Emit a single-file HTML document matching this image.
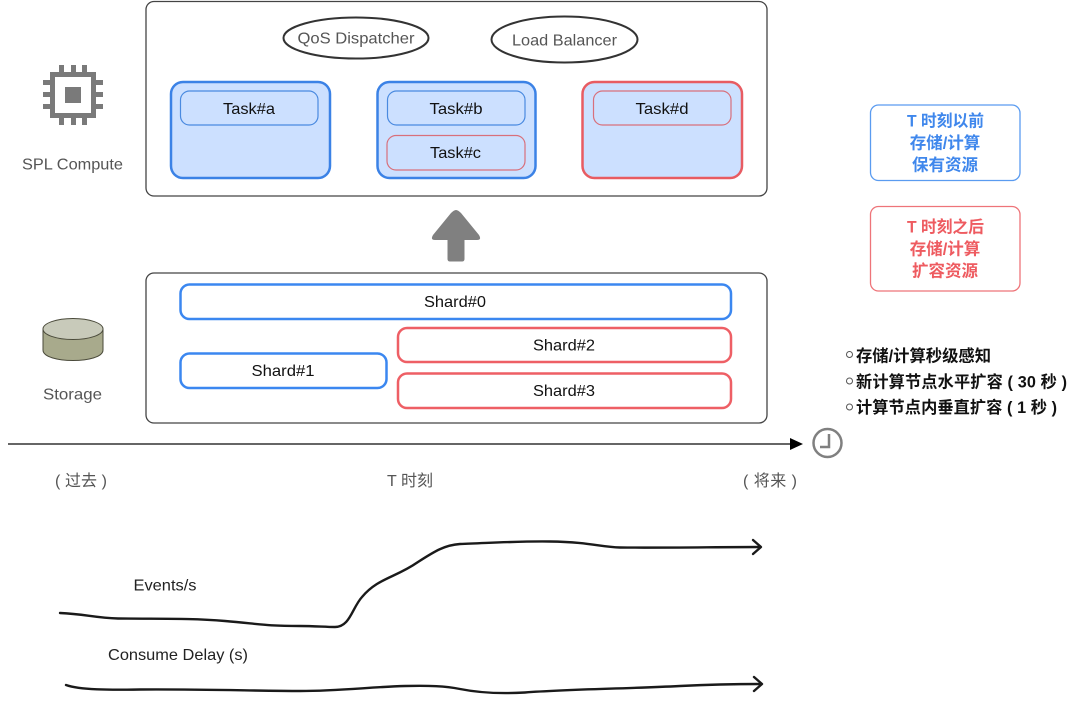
<!DOCTYPE html>
<html><head><meta charset="utf-8"><style>
html,body{margin:0;padding:0;background:#fff;width:1080px;height:702px;overflow:hidden}
svg{display:block}
text{font-family:"Liberation Sans","Noto Sans CJK SC",sans-serif;font-size:16px;text-anchor:middle}
.k{fill:#111}.g{fill:#555}
.b{font-weight:700;font-size:16.500px}
.n{font-weight:700;font-size:16.200px;fill:#111;text-anchor:start}
</style></head><body>
<svg width="1080" height="702" viewBox="0 0 1080 702" xmlns="http://www.w3.org/2000/svg">
<rect width="1080" height="702" fill="#fff"/>
<rect x="146" y="1.500" width="621" height="194.500" rx="8" fill="#fff" stroke="#444" stroke-width="1.300"/>
<rect x="146" y="273" width="621" height="150" rx="8" fill="#fff" stroke="#444" stroke-width="1.300"/>
<ellipse cx="356" cy="38" rx="72.500" ry="20.500" fill="#fff" stroke="#333" stroke-width="2"/>
<ellipse cx="564.500" cy="39.500" rx="73" ry="23" fill="#fff" stroke="#333" stroke-width="2"/>
<text x="356" y="43.500" class="g" textLength="117" lengthAdjust="spacingAndGlyphs">QoS Dispatcher</text>
<text x="564.500" y="45.500" class="g" textLength="105" lengthAdjust="spacingAndGlyphs">Load Balancer</text>

<g fill="#cce0ff" stroke-width="2.500">
<rect x="171" y="82" width="159" height="96" rx="12" stroke="#3b82e6"/>
<rect x="377.500" y="82" width="158" height="96" rx="12" stroke="#3b82e6"/>
<rect x="582.500" y="82" width="159.500" height="96" rx="12" stroke="#e85c62"/>
</g>
<g fill="#cce0ff" stroke-width="1.200">
<rect x="180.500" y="91" width="137.500" height="34" rx="9" stroke="#4a8ae0"/>
<rect x="387.500" y="91" width="137.500" height="34" rx="9" stroke="#4a8ae0"/>
<rect x="387" y="135.500" width="138" height="34.500" rx="9" stroke="#d8707c"/>
<rect x="593.500" y="91" width="137.500" height="34" rx="9" stroke="#d8707c"/>
</g>
<text x="249" y="114" class="k" textLength="52" lengthAdjust="spacingAndGlyphs">Task#a</text>
<text x="456" y="114" class="k" textLength="53" lengthAdjust="spacingAndGlyphs">Task#b</text>
<text x="455.500" y="158" class="k" textLength="51" lengthAdjust="spacingAndGlyphs">Task#c</text>
<text x="662" y="114" class="k" textLength="53" lengthAdjust="spacingAndGlyphs">Task#d</text>

<path d="M456 210 Q458 210 461 213 L479 235 Q482 240 477 240 L464.500 240 L464.500 259 Q464.500 261.500 462 261.500 L450 261.500 Q447.500 261.500 447.500 259 L447.500 240 L435 240 Q430 240 433 235 L451 213 Q454 210 456 210Z" fill="#808080"/>

<g fill="#fff" stroke-width="2.500">
<rect x="180.500" y="284.500" width="550.500" height="34.500" rx="9" stroke="#3b87f0"/>
<rect x="180.500" y="353.500" width="206" height="34.500" rx="9" stroke="#3b87f0"/>
<rect x="398" y="328" width="333" height="34" rx="9" stroke="#ee5f65"/>
<rect x="398" y="373.500" width="333" height="34.500" rx="9" stroke="#ee5f65"/>
</g>
<text x="455" y="307" class="k" textLength="62" lengthAdjust="spacingAndGlyphs">Shard#0</text>
<text x="283" y="376" class="k" textLength="63" lengthAdjust="spacingAndGlyphs">Shard#1</text>
<text x="564" y="350.500" class="k" textLength="62" lengthAdjust="spacingAndGlyphs">Shard#2</text>
<text x="564" y="396" class="k" textLength="62" lengthAdjust="spacingAndGlyphs">Shard#3</text>

<g fill="#7a7a7a">
<path fill-rule="evenodd" d="M50 72H96V118H50ZM55 77V113H91V77Z"/>
<rect x="65" y="87" width="16" height="16"/>
<rect x="59" y="65" width="5" height="9"/><rect x="71" y="65" width="5" height="9"/><rect x="82" y="65" width="5" height="9"/>
<rect x="59" y="116" width="5" height="9"/><rect x="71" y="116" width="5" height="9"/><rect x="82" y="116" width="5" height="9"/>
<rect x="43" y="80" width="9" height="5"/><rect x="43" y="92" width="9" height="5"/><rect x="43" y="104" width="9" height="5"/>
<rect x="94" y="80" width="9" height="5"/><rect x="94" y="92" width="9" height="5"/><rect x="94" y="104" width="9" height="5"/>
</g>
<text x="72.500" y="169.500" class="g" textLength="101" lengthAdjust="spacingAndGlyphs">SPL Compute</text>

<path d="M43 329 V350 C43 364 103 364 103 350 V329Z" fill="#a8aa8c" stroke="#4a4a3a" stroke-width="1"/>
<ellipse cx="73" cy="329" rx="30" ry="10.500" fill="#c8caba" stroke="#4a4a3a" stroke-width="1"/>
<text x="72.500" y="399.500" class="g" textLength="59" lengthAdjust="spacingAndGlyphs">Storage</text>

<line x1="8" y1="444" x2="792" y2="444" stroke="#333" stroke-width="1.500"/>
<path d="M790 438 L803 444 L790 450Z" fill="#000"/>
<circle cx="827.500" cy="443" r="14" fill="#fff" stroke="#808080" stroke-width="2.500"/>
<path d="M829 434 V447 H820" fill="none" stroke="#808080" stroke-width="2.500"/>

<text x="81" y="486" class="g" textLength="52" lengthAdjust="spacing">( 过去 )</text>
<text x="410" y="486" class="g">T 时刻</text>
<text x="770" y="486" class="g" textLength="54" lengthAdjust="spacing">( 将来 )</text>

<g stroke="#1a1a1a" fill="none" stroke-width="2.400" stroke-linecap="round" stroke-linejoin="round">
<path d="M60 613 C85 614 95 618 118 618.500 C160 619 190 618 225 621 C260 624 265 626 300 626 C315 626 325 627 335 627 C350 627 352 608 362 597 C378 578 395 578 418 562 C435 551 445 545 460 544 C490 543 520 541 550 541.500 C590 542 600 547 620 547.500 C660 548 720 547 760 547"/>
<path d="M753 540 L761 547 L753 554"/>
<path d="M66 685 C80 690 110 690 140 689.500 C200 689 260 691 300 691 C340 691 370 687 405 686 C430 685.500 445 686 460 689 C480 693 500 694 525 692.500 C570 689 620 689 680 686 C710 684.500 735 684 761 684"/>
<path d="M754 677 L762 684 L754 691"/>
</g>
<text x="165" y="590.500" style="fill:#222" textLength="63" lengthAdjust="spacingAndGlyphs">Events/s</text>
<text x="178" y="660" style="fill:#222" textLength="140" lengthAdjust="spacingAndGlyphs">Consume Delay (s)</text>

<rect x="870.500" y="105" width="149.500" height="75.500" rx="8" fill="#fff" stroke="#5a9bf0" stroke-width="1.300"/>
<rect x="870.500" y="206.500" width="149.500" height="84.500" rx="8" fill="#fff" stroke="#ee7479" stroke-width="1.300"/>
<text class="b" x="945.500" y="126.500" fill="#3f87ec" textLength="77" lengthAdjust="spacingAndGlyphs">T 时刻以前</text>
<text class="b" x="945" y="148.500" fill="#3f87ec">存储/计算</text>
<text class="b" x="945" y="170.500" fill="#3f87ec">保有资源</text>
<text class="b" x="945.500" y="232.500" fill="#ee5b60" textLength="77" lengthAdjust="spacingAndGlyphs">T 时刻之后</text>
<text class="b" x="945" y="254.500" fill="#ee5b60">存储/计算</text>
<text class="b" x="945" y="276.500" fill="#ee5b60">扩容资源</text>
<g fill="#fff" stroke="#555" stroke-width="1">
<circle cx="849.500" cy="354.500" r="3"/><circle cx="849.500" cy="381" r="3"/><circle cx="849.500" cy="407" r="3"/>
</g>
<text class="n" x="856" y="361.500" textLength="135" lengthAdjust="spacingAndGlyphs">存储/计算秒级感知</text>
<text class="n" x="856" y="387.500" textLength="211" lengthAdjust="spacing">新计算节点水平扩容 ( 30 秒 )</text>
<text class="n" x="856" y="413" textLength="201" lengthAdjust="spacing">计算节点内垂直扩容 ( 1 秒 )</text>
</svg>
</body></html>
